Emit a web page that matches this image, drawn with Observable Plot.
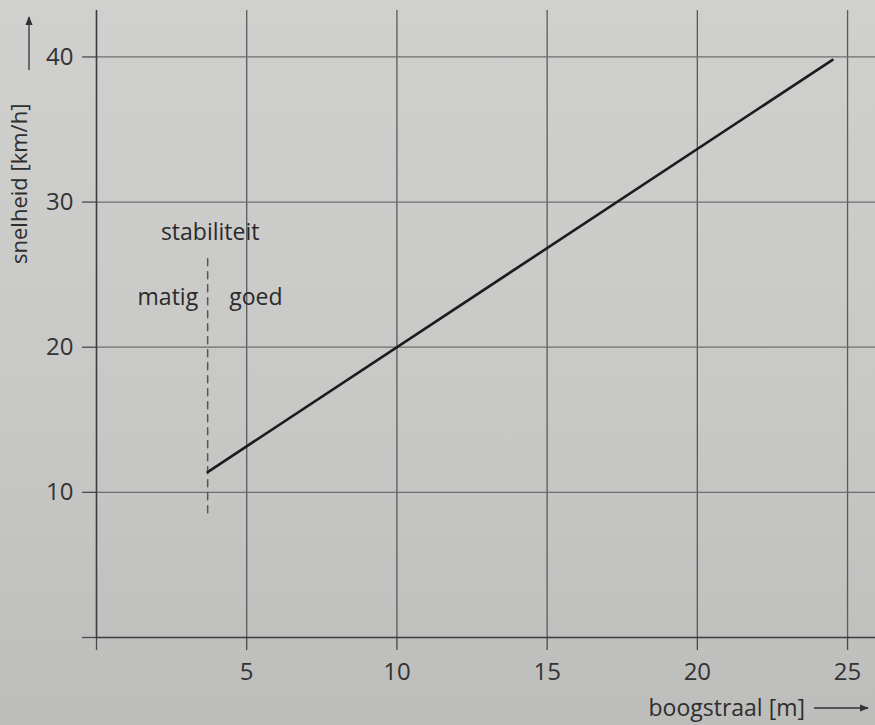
<!DOCTYPE html>
<html>
<head>
<meta charset="utf-8">
<script src="https://cdn.jsdelivr.net/npm/d3@7"></script>
<script src="https://cdn.jsdelivr.net/npm/@observablehq/plot@0.6"></script>
<style>
  html, body { margin: 0; padding: 0; }
  body { width: 875px; height: 725px; overflow: hidden;
         background: linear-gradient(180deg, #d0d0ce 0%, #c8c8c6 55%, #bdbdbc 100%); }
  #chart svg { display: block; background: transparent; }
</style>
</head>
<body>
<div id="chart"></div>
<script>
// Data
const radius = [3.7, 24.5];          // boogstraal [m]
const speed = [11.4, 39.8];          // snelheid [km/h]
const stabilityX = [3.7, 3.7];       // dashed boundary "matig | goed"
const stabilityY = [8.6, 26.5];
const xTicks = [0, 5, 10, 15, 20, 25];
const yTicks = [0, 10, 20, 30, 40];
const labels = [
  {x: 3.8, y: 27.9, text: "stabiliteit", anchor: "middle", dx: 0},
  {x: 3.7, y: 23.4, text: "matig", anchor: "end", dx: -9},
  {x: 3.7, y: 23.4, text: "goed", anchor: "start", dx: 22}
];
const xLabel = "boogstraal [m]";
const yLabel = "snelheid [km/h]";

const line = radius.map((r, i) => ({r, v: speed[i]}));
const dash = stabilityX.map((r, i) => ({r, v: stabilityY[i]}));

const font = "'Open Sans', 'DejaVu Sans', sans-serif";
const ink = "#2e2e2e";

const chart = Plot.plot({
  width: 875,
  height: 725,
  marginLeft: 96,
  marginRight: 0,
  marginTop: 10,
  marginBottom: 88,
  style: {fontFamily: font, color: ink, background: "transparent", overflow: "visible"},
  x: {domain: [0, 25.93]},
  y: {domain: [0, 43.2]},
  marks: [
    Plot.gridX(xTicks.slice(1), {stroke: "#5a5a5a", strokeOpacity: 1, strokeWidth: 1.3}),
    Plot.gridY(yTicks.slice(1), {stroke: "#6e6e6e", strokeOpacity: 1, strokeWidth: 1.2}),
    Plot.axisX({ticks: xTicks, tickFormat: d => d === 0 ? "" : d, tickSize: 13, tickPadding: 12,
      fontSize: 24, stroke: "#4a4a4a", strokeWidth: 1.3, label: null, fill: "#333"}),
    Plot.axisY({ticks: yTicks, tickFormat: d => d === 0 ? "" : d, tickSize: 14, tickPadding: 9,
      fontSize: 24, stroke: "#4a4a4a", strokeWidth: 1.3, label: null, fill: "#333"}),
    Plot.ruleY([0], {stroke: "#3c3c3c", strokeWidth: 1.6}),
    Plot.ruleX([0], {stroke: "#3c3c3c", strokeWidth: 1.6}),
    Plot.line(dash, {x: "r", y: "v", stroke: "#555", strokeWidth: 1.5, strokeDasharray: "7,6"}),
    Plot.line(line, {x: "r", y: "v", stroke: "#1c1c1c", strokeWidth: 2.6})
  ]
});
document.getElementById("chart").appendChild(chart);

const sx = chart.scale("x"), sy = chart.scale("y");
const svg = d3.select(chart);

// annotation labels (per-label horizontal offsets), positioned through the scales
const tg = svg.append("g").attr("font-family", font).attr("font-size", 23).attr("fill", "#2a2a2a");
labels.forEach(l => {
  tg.append("text")
    .attr("x", sx.apply(l.x) + l.dx)
    .attr("y", sy.apply(l.y))
    .attr("dy", "0.35em")
    .attr("text-anchor", l.anchor)
    .text(l.text);
});

// axis titles with arrows
const defs = svg.append("defs");
defs.append("marker").attr("id", "arr").attr("viewBox", "0 0 10 10")
  .attr("refX", 9).attr("refY", 5).attr("markerWidth", 7).attr("markerHeight", 7)
  .attr("orient", "auto")
  .append("path").attr("d", "M0,1 L10,5 L0,9 Z").attr("fill", "#333");

svg.append("text")
  .attr("x", 805).attr("y", 716)
  .attr("text-anchor", "end")
  .attr("font-family", font).attr("font-size", 23).attr("fill", "#2e2e2e")
  .text(xLabel);
svg.append("line").attr("x1", 814).attr("y1", 708).attr("x2", 868).attr("y2", 708)
  .attr("stroke", "#333").attr("stroke-width", 1.3).attr("marker-end", "url(#arr)");

svg.append("text")
  .attr("transform", "translate(27,264) rotate(-90)")
  .attr("text-anchor", "start")
  .attr("font-family", font).attr("font-size", 22).attr("fill", "#2e2e2e")
  .text(yLabel);
svg.append("line").attr("x1", 29).attr("y1", 70).attr("x2", 29).attr("y2", 17)
  .attr("stroke", "#333").attr("stroke-width", 1.3).attr("marker-end", "url(#arr)");
</script>
</body>
</html>
